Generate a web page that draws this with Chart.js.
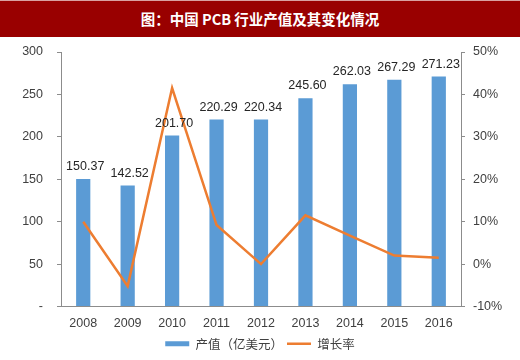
<!DOCTYPE html>
<html><head><meta charset="utf-8">
<script src="https://cdn.jsdelivr.net/npm/chart.js@4/dist/chart.umd.min.js"></script>
<style>
html,body{margin:0;padding:0;background:#fff;}
#banner{position:absolute;left:0;top:0;width:520px;height:36px;background:#990000;border-top:1px solid #d9a0a0;color:#fff;font:bold 14.5px "Noto Sans CJK SC",sans-serif;text-align:center;line-height:36px;}
#wrap{position:absolute;left:0;top:37px;width:520px;height:323px;}
</style></head>
<body>
<div id="banner">图：中国 PCB 行业产值及其变化情况</div>
<div id="wrap"><canvas id="c"></canvas></div>
<script>
const categories = ['2008','2009','2010','2011','2012','2013','2014','2015','2016'];
const outputValues = [150.37,142.52,201.70,220.29,220.34,245.60,262.03,267.29,271.23];
const growthRates = [10.0,-5.2,41.5,9.2,0.0,11.5,6.7,2.0,1.5];
const seriesNames = ['产值（亿美元）','增长率'];
const leftTicks = [0,50,100,150,200,250,300];
const rightTicks = [-10,0,10,20,30,40,50];

const barColor = '#5B9BD5';
const lineColor = '#ED7D31';
const axisColor = '#8c8c8c';
const textColor = '#404040';

const labelPlugin = {
  id:'barLabels',
  afterDatasetsDraw(chart){
    const meta = chart.getDatasetMeta(0);
    const ctx = chart.ctx;
    ctx.save();
    ctx.font = '12.5px "Liberation Sans", Arial, sans-serif';
    ctx.fillStyle = '#262626';
    ctx.textAlign = 'center';
    ctx.textBaseline = 'bottom';
    meta.data.forEach((el,i)=>{
      ctx.fillText(outputValues[i].toFixed(2), el.x + 2, el.y - 6);
    });
    ctx.restore();
  }
};

function fixPad(w){
  return function(s){ s.width = w; s.paddingTop = 7; s.paddingBottom = 7; };
}

new Chart(document.getElementById('c'), {
  data:{
    labels:categories,
    datasets:[
      {type:'bar', label:seriesNames[0], data:outputValues, backgroundColor:barColor, yAxisID:'y', order:1,
       categoryPercentage:1, barPercentage:0.32},
      {type:'line', label:seriesNames[1], data:growthRates, borderColor:lineColor, backgroundColor:lineColor,
       borderWidth:2.5, pointRadius:0, tension:0, yAxisID:'y1', order:0}
    ]
  },
  options:{
    responsive:true, maintainAspectRatio:false, animation:false,
    layout:{padding:{top:15,left:0,right:0,bottom:0}},
    plugins:{
      tooltip:{enabled:false},
      legend:{position:'bottom',
        labels:{font:{size:12.5,family:'"Noto Sans CJK SC", sans-serif'}, color:textColor, usePointStyle:true,
          pointStyleWidth:24, boxHeight:5, padding:4,
          generateLabels(){
            return [
              {text:seriesNames[0], fillStyle:barColor, strokeStyle:barColor, lineWidth:0, pointStyle:'rect', datasetIndex:0, hidden:false, fontColor:textColor},
              {text:seriesNames[1], fillStyle:lineColor, strokeStyle:lineColor, lineWidth:2.5, pointStyle:'line', datasetIndex:1, hidden:false, fontColor:textColor}
            ];
          }}
      }
    },
    scales:{
      x:{grid:{display:false}, border:{display:true,color:axisColor},
         ticks:{color:textColor, font:{size:12.5,family:'"Liberation Sans", Arial, sans-serif'}, padding:2, maxRotation:0}},
      y:{position:'left', min:0, max:300,
         afterBuildTicks(s){ s.ticks = leftTicks.map(v=>({value:v})); },
         afterFit:fixPad(61),
         grid:{display:true, drawOnChartArea:false, drawTicks:true, tickLength:4, color:axisColor},
         border:{display:true,color:axisColor},
         ticks:{color:textColor, font:{size:12.5,family:'"Liberation Sans", Arial, sans-serif'}, padding:14,
           callback:v=> v===0 ? '-' : String(v)}},
      y1:{position:'right', min:-10, max:50,
         afterBuildTicks(s){ s.ticks = rightTicks.map(v=>({value:v})); },
         afterFit:fixPad(59),
         grid:{display:true, drawOnChartArea:false, drawTicks:true, tickLength:4, color:axisColor},
         border:{display:true,color:axisColor},
         ticks:{color:textColor, font:{size:12.5,family:'"Liberation Sans", Arial, sans-serif'}, padding:8,
           callback:v=> v + '%'}}
    }
  },
  plugins:[labelPlugin]
});
</script>
</body></html>
